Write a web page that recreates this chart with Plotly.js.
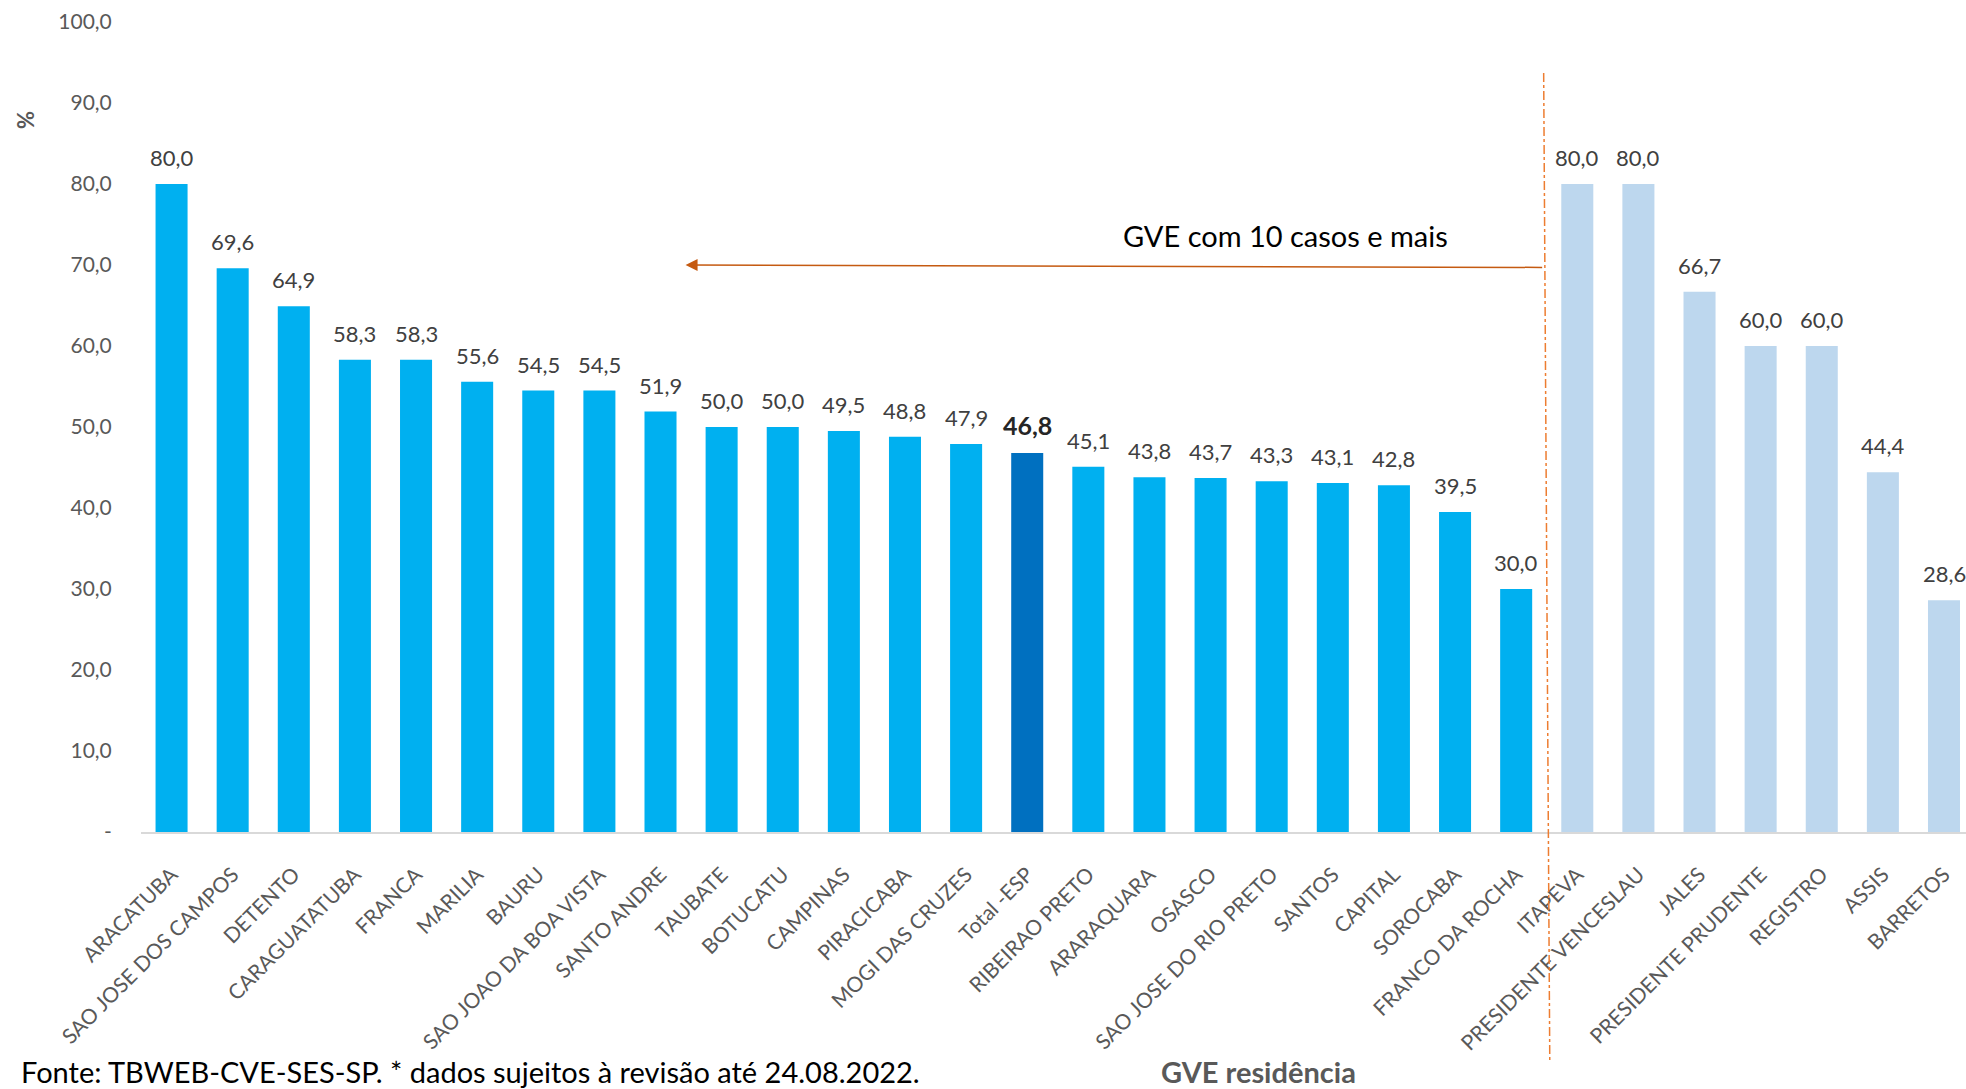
<!DOCTYPE html>
<html>
<head>
<meta charset="utf-8">
<script src="https://cdn.plot.ly/plotly-3.0.1.min.js"></script>
<style>html,body{margin:0;padding:0;background:#fff;}#chart{width:1966px;height:1089px;}</style>
</head>
<body>
<div id="chart"></div>
<script>
const categories = ["ARACATUBA","SAO JOSE DOS CAMPOS","DETENTO","CARAGUATATUBA","FRANCA","MARILIA","BAURU","SAO JOAO DA BOA VISTA","SANTO ANDRE","TAUBATE","BOTUCATU","CAMPINAS","PIRACICABA","MOGI DAS CRUZES","Total -ESP","RIBEIRAO PRETO","ARARAQUARA","OSASCO","SAO JOSE DO RIO PRETO","SANTOS","CAPITAL","SOROCABA","FRANCO DA ROCHA","ITAPEVA","PRESIDENTE VENCESLAU","JALES","PRESIDENTE PRUDENTE","REGISTRO","ASSIS","BARRETOS"];
const values = [80.0,69.6,64.9,58.3,58.3,55.6,54.5,54.5,51.9,50.0,50.0,49.5,48.8,47.9,46.8,45.1,43.8,43.7,43.3,43.1,42.8,39.5,30.0,80.0,80.0,66.7,60.0,60.0,44.4,28.6];
const groups = ["main","main","main","main","main","main","main","main","main","main","main","main","main","main","total","main","main","main","main","main","main","main","main","small","small","small","small","small","small","small"];
const yTickVals = [0,10,20,30,40,50,60,70,80,90,100];
const yTickText = ["-","10,0","20,0","30,0","40,0","50,0","60,0","70,0","80,0","90,0","100,0"];

const groupColors = {main:"#00B0F0", total:"#0070C0", small:"#BDD7EE"};
const fmt = v => v.toFixed(1).replace(".", ",");

const font = "Lato, 'Open Sans', sans-serif";

const trace = {
  type: "bar",
  x: categories,
  y: values,
  marker: {color: groups.map(g => groupColors[g])},
  hoverinfo: "x+y"
};

const labelAnns = categories.map((c, i) => ({
  x: c, y: values[i], xref: "x", yref: "y",
  text: groups[i] === "total" ? "<b>" + fmt(values[i]) + "</b>" : fmt(values[i]),
  showarrow: false, yanchor: "bottom", yshift: 11,
  font: {family: font, size: groups[i] === "total" ? 25 : 22, color: groups[i] === "total" ? "#262626" : "#404040"}
}));

const layout = {
  width: 1966, height: 1089,
  margin: {l: 141, r: 0, t: 22, b: 257},
  paper_bgcolor: "#fff", plot_bgcolor: "#fff",
  showlegend: false,
  bargap: 0.476,
  font: {family: font, color: "#595959"},
  xaxis: {
    type: "category",
    range: [-0.5, 29.36],
    tickangle: -45,
    tickfont: {family: font, size: 21, color: "#595959"},
    ticks: "outside", ticklen: 20, tickcolor: "rgba(0,0,0,0)",
    showline: true, linecolor: "#D9D9D9", linewidth: 2,
    showgrid: false, zeroline: false, fixedrange: true
  },
  yaxis: {
    range: [0, 100],
    tickvals: yTickVals, ticktext: yTickText,
    tickfont: {family: font, size: 21, color: "#595959"},
    ticks: "outside", ticklen: 24, tickcolor: "rgba(0,0,0,0)",
    showline: false, showgrid: false, zeroline: false, fixedrange: true
  },
  shapes: [{
    type: "line", xref: "x", yref: "paper",
    x0: 22.45, x1: 22.55, y0: 0.937, y1: -0.283,
    line: {color: "#ED7D31", width: 1.5, dash: "dashdot"}
  }],
  annotations: labelAnns.concat([
    {x: 8.41, y: 70.0, xref: "x", yref: "y", ax: 22.45, ay: 69.7, axref: "x", ayref: "y",
     showarrow: true, arrowhead: 2, arrowsize: 1.6, arrowwidth: 1.5, arrowcolor: "#C55A11", text: ""},
    {x: 1285, y: 236, xref: "paper", yref: "paper", text: "GVE com 10 casos e mais",
     showarrow: false, xanchor: "center", yanchor: "middle",
     font: {family: font, size: 29, color: "#000"}},
    {x: 25, y: 120, xref: "paper", yref: "paper", text: "<b>%</b>", showarrow: false,
     textangle: -90, xanchor: "center", yanchor: "middle",
     font: {family: font, size: 22, color: "#595959"}},
    {x: 19, y: 1071, xref: "paper", yref: "paper", text: "Fonte: TBWEB-CVE-SES-SP. * dados sujeitos à revisão até 24.08.2022.",
     showarrow: false, xanchor: "left", yanchor: "middle",
     font: {family: font, size: 29, color: "#000"}},
    {x: 1258, y: 1071, xref: "paper", yref: "paper", text: "<b>GVE residência</b>", showarrow: false,
     xanchor: "center", yanchor: "middle",
     font: {family: font, size: 29, color: "#595959"}}
  ])
};

// convert pixel-placed text annotations (paper px) to paper fractions
const plotW = layout.width - layout.margin.l - layout.margin.r;
const plotH = layout.height - layout.margin.t - layout.margin.b;
layout.annotations.forEach(a => {
  if (a.xref === "paper" && a.x > 1.5) a.x = (a.x - layout.margin.l) / plotW;
  if (a.yref === "paper" && a.y > 1.5) a.y = (layout.height - layout.margin.b - a.y) / plotH;
});

Plotly.newPlot("chart", [trace], layout, {displayModeBar: false, responsive: false});
</script>
</body>
</html>
